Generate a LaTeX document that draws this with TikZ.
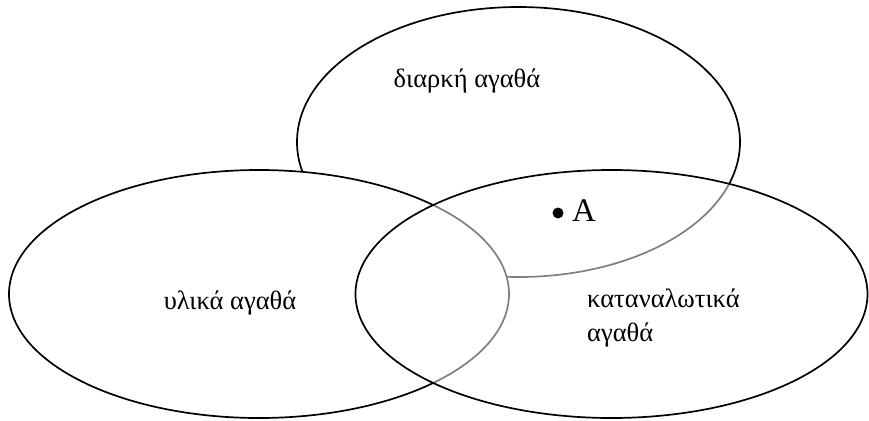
\documentclass[tikz,border=0pt]{standalone}
\usepackage{fontspec}
\setmainfont{Liberation Serif}
\usetikzlibrary{positioning}
\tikzset{
  setline/.style={line width=1.7pt},
  setlabel/.style={font=\fontsize{26.5}{34}\selectfont,inner sep=0pt},
  dot/.style={circle,fill,inner sep=0pt,minimum size=11pt}
}
\begin{document}
\begin{tikzpicture}[x=1pt,y=-1pt]
  \useasboundingbox (0,0) rectangle (869,420);
  % centres of the three sets
  \coordinate (durc) at (518.5,142);
  \coordinate (matc) at (259,294);
  \coordinate (conc) at (611.5,294);

  \draw[setline] (durc) ellipse [x radius=221.5,y radius=135];
  \draw[setline,fill=white] (matc) ellipse [x radius=250,y radius=124];
  \draw[setline,fill=white,fill opacity=0.5] (conc) ellipse [x radius=256,y radius=124];

  \node[setlabel,anchor=base] (dur) at (467,87) {διαρκή αγαθά};
  \node[setlabel,anchor=base] (mat) at (230,309) {υλικά αγαθά};
  \node[setlabel,align=left,anchor=north west] (con) at (587,289) {καταναλωτικά\\αγαθά};

  \node[dot] (pa) at (558,213) {};
  \node[font=\fontsize{33}{38}\selectfont,inner sep=0pt,anchor=base west] (la) at (572,221) {A};
\end{tikzpicture}
\end{document}
